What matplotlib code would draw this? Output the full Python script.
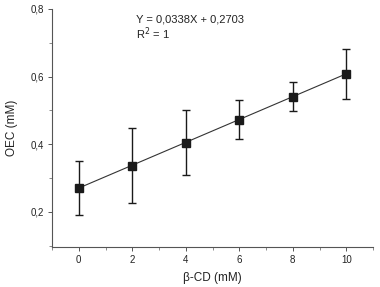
import matplotlib
matplotlib.use("Agg")
import matplotlib.pyplot as plt
from matplotlib.ticker import MultipleLocator, FuncFormatter

x = [0, 2, 4, 6, 8, 10]
oec = [0.270, 0.337, 0.405, 0.473, 0.541, 0.608]
err = [0.080, 0.111, 0.096, 0.058, 0.044, 0.073]
slope = 0.0338
intercept = 0.2703
eq_text = "Y = 0,0338X + 0,2703"
r2_text = "R$^2$ = 1"

plt.rcParams['font.family'] = ['Liberation Sans', 'DejaVu Sans']

fig = plt.figure(figsize=(3.8, 2.87), dpi=100)
ax = fig.add_axes([52/380, 40/287, (373-52)/380, (247-9)/287])

fit_y = [slope * xi + intercept for xi in x]
ax.plot(x, fit_y, color='#333333', lw=0.8, zorder=2)
ax.errorbar(x, oec, yerr=err, fmt='s', color='#1a1a1a', ms=5.5, capsize=3,
            elinewidth=1.0, capthick=1.0, zorder=3)

ax.set_xlim(-1, 11)
ax.set_ylim(0.096, 0.8)
ax.xaxis.set_major_locator(MultipleLocator(2))
ax.xaxis.set_minor_locator(MultipleLocator(1))
ax.yaxis.set_major_locator(MultipleLocator(0.2))
ax.yaxis.set_minor_locator(MultipleLocator(0.1))
ax.yaxis.set_major_formatter(FuncFormatter(lambda v, p: f"{v:.1f}".replace('.', ',')))

for s in ['top', 'right']:
    ax.spines[s].set_visible(False)
for s in ['left', 'bottom']:
    ax.spines[s].set_color('#555555')
    ax.spines[s].set_linewidth(0.8)
ax.tick_params(which='major', direction='out', length=3, width=0.7, color='#555555',
               labelsize=7, labelcolor='#222222', pad=3)
ax.tick_params(which='minor', direction='out', length=2, width=0.6, color='#777777')

ax.set_xlabel("β-CD (mM)", fontsize=8.5, color='#222222', labelpad=5)
ax.set_ylabel("OEC (mM)", fontsize=8.5, color='#222222', labelpad=9)

fig.text(136/380, 1 - 20/287, eq_text, fontsize=8, color='#222222', va='center', ha='left')
fig.text(136/380, 1 - 34/287, r2_text, fontsize=8, color='#222222', va='center', ha='left')

fig.savefig("out.png", dpi=100)
